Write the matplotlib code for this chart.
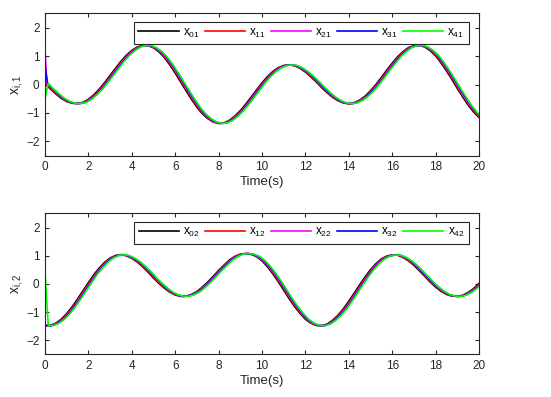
import numpy as np
import matplotlib
matplotlib.use('Agg')
import matplotlib.pyplot as plt

plt.rcParams['font.family'] = ['Liberation Sans', 'DejaVu Sans']
plt.rcParams['mathtext.fontset'] = 'custom'
plt.rcParams['mathtext.rm'] = 'Liberation Sans'

# time grid of the read values (s)
time = np.arange(0, 20.001, 0.25)

# leader x_{0,1}, every 0.25 s
x01 = [0.04, -0.16, -0.33, -0.49, -0.60, -0.66, -0.67, -0.63, -0.52, -0.36, -0.16, 0.07, 0.32, 0.57, 0.82, 1.03,
       1.20, 1.32, 1.38, 1.37, 1.29, 1.15, 0.95, 0.69, 0.40, 0.09, -0.22, -0.52, -0.80, -1.03, -1.20, -1.32,
       -1.37, -1.35, -1.26, -1.11, -0.92, -0.69, -0.44, -0.19, 0.06, 0.28, 0.46, 0.59, 0.67, 0.69, 0.66, 0.57,
       0.44, 0.27, 0.09, -0.11, -0.29, -0.45, -0.57, -0.65, -0.68, -0.64, -0.55, -0.41, -0.22, 0.00, 0.25, 0.51,
       0.75, 0.98, 1.16, 1.30, 1.37, 1.38, 1.32, 1.19, 1.01, 0.76, 0.48, 0.18, -0.14, -0.44, -0.73, -0.97, -1.16]

# leader x_{0,2}, every 0.25 s (starts at 1.2 and drops at once)
x02_start = 1.2
x02 = [-1.48, -1.47, -1.39, -1.25, -1.05, -0.81, -0.53, -0.24, 0.05, 0.33, 0.57, 0.77, 0.92, 1.01, 1.04, 1.00,
       0.91, 0.78, 0.61, 0.42, 0.21, 0.02, -0.15, -0.29, -0.39, -0.44, -0.43, -0.37, -0.27, -0.11, 0.07, 0.27,
       0.48, 0.67, 0.85, 0.98, 1.06, 1.08, 1.05, 0.97, 0.82, 0.61, 0.36, 0.08, -0.22, -0.52, -0.80, -1.04,
       -1.25, -1.39, -1.47, -1.48, -1.42, -1.29, -1.11, -0.88, -0.61, -0.32, -0.03, 0.25, 0.51, 0.72, 0.89, 0.99,
       1.03, 1.02, 0.94, 0.82, 0.66, 0.47, 0.27, 0.07, -0.11, -0.26, -0.37, -0.43, -0.44, -0.40, -0.30, -0.16, 0.02]

# followers 1..4: time lag behind the leader (s) and their values at t = 0
lags = [0.05, 0.08, 0.12, 0.15]
start_1 = [0.9, 1.2, 0.65, -0.5]
start_2 = [-1.45, -1.45, -1.45, 0.4]

colors = ['black', 'red', 'magenta', 'blue', (0, 1, 0)]

fig = plt.figure(figsize=(5.51, 3.97), dpi=100)
ax1 = fig.add_axes([0.0817, 0.6083, 0.7877, 0.3577])
ax2 = fig.add_axes([0.0817, 0.1071, 0.7877, 0.3552])

panels = [(ax1, x01, start_1, 1, None), (ax2, x02, start_2, 2, x02_start)]
for ax, lead, starts, k, lead0 in panels:
    if lead0 is None:
        ax.plot(time, lead, color=colors[0], lw=1.2, label='$\\mathregular{x_{0%d}}$' % k)
    else:
        ax.plot(np.r_[0, time], np.r_[lead0, lead], color=colors[0], lw=1.2, label='$\\mathregular{x_{0%d}}$' % k)
    for i in range(4):
        ax.plot(np.r_[0, time + lags[i]], np.r_[starts[i], lead], color=colors[i + 1], lw=1.2,
                label='$\\mathregular{x_{%d%d}}$' % (i + 1, k))

    ax.set_xlim(0, 20)
    ax.set_ylim(-2.5, 2.5)
    ax.set_xticks(range(0, 21, 2))
    ax.set_yticks([-2, -1, 0, 1, 2])
    ax.tick_params(direction='in', top=True, right=True, labelsize=8.5, length=3,
                   color='0.15', labelcolor='0.15', pad=4)
    for s in ax.spines.values():
        s.set_color('0.15')
        s.set_linewidth(0.8)
    ax.set_xlabel('Time(s)', fontsize=9.5, color='0.15', labelpad=2)
    ax.set_ylabel('$\\mathregular{x_{i,%d}}$' % k, fontsize=10, color='0.15', labelpad=1)

    leg = ax.legend(ncol=5, loc='upper right', bbox_to_anchor=(0.977, 0.942), borderaxespad=0,
                    fontsize=8.5, handlelength=3.4, handletextpad=0.35, columnspacing=0.43,
                    fancybox=False, framealpha=1, edgecolor='0.15', borderpad=0.4)
    leg.get_frame().set_linewidth(0.8)

fig.savefig('out.png', dpi=100)
